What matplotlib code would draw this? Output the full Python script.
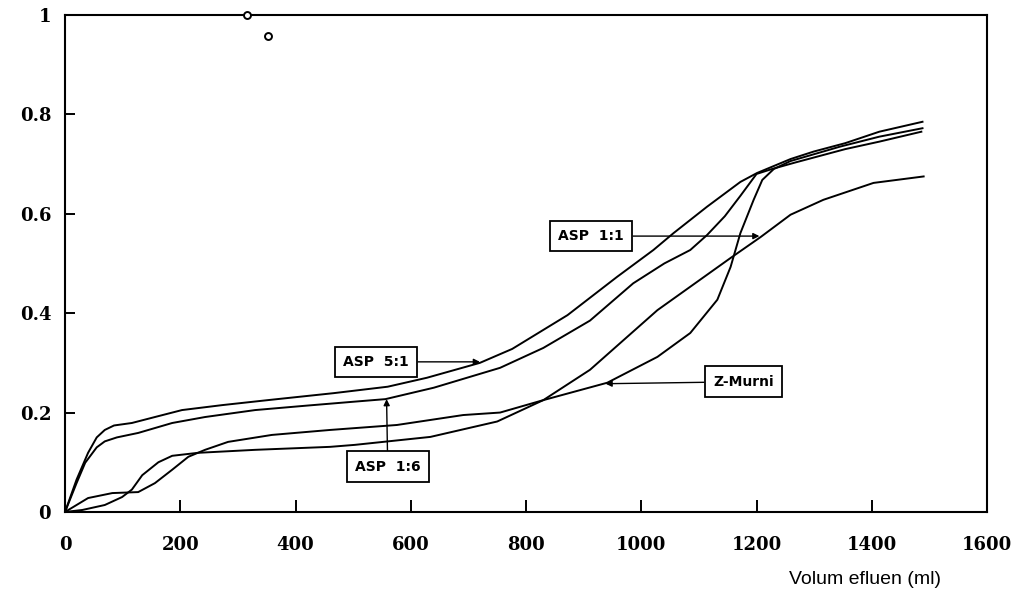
import matplotlib.pyplot as plt

# ASP 5:1 curve
asp51_x = [0, 20, 40, 55, 69, 85, 116, 156, 203, 273, 352, 466, 560, 628, 720, 776, 872, 958,
           1021, 1056, 1114, 1172, 1201, 1259, 1299, 1354, 1413, 1488]
asp51_y = [0, 0.065, 0.119, 0.15, 0.165, 0.174, 0.179, 0.191, 0.205, 0.215, 0.225, 0.239, 0.252,
           0.27, 0.30, 0.328, 0.396, 0.473, 0.527, 0.561, 0.614, 0.664, 0.682, 0.71, 0.725, 0.742,
           0.765, 0.785]

# ASP 1:6 curve
asp16_x = [0, 20, 35, 55, 69, 90, 127, 186, 243, 330, 420, 503, 556, 640, 755, 830, 911, 986,
           1040, 1085, 1114, 1145, 1172, 1200, 1227, 1267, 1354, 1413, 1486]
asp16_y = [0, 0.058, 0.099, 0.13, 0.142, 0.15, 0.159, 0.179, 0.191, 0.205, 0.214, 0.222, 0.227,
           0.25, 0.29, 0.33, 0.385, 0.46, 0.5, 0.527, 0.557, 0.595, 0.636, 0.68, 0.69, 0.703, 0.73,
           0.745, 0.765]

# ASP 1:1 curve
asp11_x = [0, 30, 69, 99, 116, 134, 162, 186, 231, 330, 460, 503, 634, 750, 830, 911, 1028,
           1155, 1207, 1259, 1316, 1403, 1490]
asp11_y = [0, 0.004, 0.014, 0.03, 0.045, 0.074, 0.1, 0.113, 0.119, 0.125, 0.131, 0.135, 0.151,
           0.182, 0.225, 0.286, 0.406, 0.511, 0.553, 0.598, 0.628, 0.662, 0.675]

# Z-Murni curve
murni_x = [0, 20, 40, 82, 127, 156, 186, 214, 243, 283, 359, 460, 576, 691, 755, 830, 941,
           1028, 1085, 1132, 1155, 1172, 1195, 1210, 1230, 1259, 1345, 1413, 1488]
murni_y = [0, 0.014, 0.028, 0.038, 0.04, 0.058, 0.085, 0.111, 0.125, 0.141, 0.155, 0.165, 0.175,
           0.195, 0.2, 0.225, 0.26, 0.312, 0.36, 0.427, 0.493, 0.561, 0.628, 0.668, 0.69, 0.706,
           0.735, 0.755, 0.772]

# two loose points near the top
pts_x = [316, 352]
pts_y = [1.0, 0.958]

fig = plt.figure(figsize=(10.24, 5.96), dpi=100)
ax = fig.add_axes([0.0635, 0.141, 0.9004, 0.834])

for xs, ys in [(asp51_x, asp51_y), (asp16_x, asp16_y), (asp11_x, asp11_y), (murni_x, murni_y)]:
    ax.plot(xs, ys, color='black', lw=1.4)

ax.plot(pts_x, pts_y, 'o', mfc='white', mec='black', mew=1.4, ms=5, clip_on=False, zorder=5)

ax.set_xlim(0, 1600)
ax.set_ylim(0, 1)
ax.set_xticks(range(0, 1601, 200))
ax.set_yticks([0, 0.2, 0.4, 0.6, 0.8, 1])
ax.set_yticklabels(['0', '0.2', '0.4', '0.6', '0.8', '1'])
ax.tick_params(axis='x', direction='in', length=9, width=1.4, pad=17)
ax.tick_params(axis='y', direction='in', length=7, width=1.4, pad=10)
for lab in ax.get_xticklabels() + ax.get_yticklabels():
    lab.set_fontfamily('DejaVu Serif')
    lab.set_fontsize(13)
    lab.set_fontweight('bold')
for s in ax.spines.values():
    s.set_linewidth(1.5)

# labels with arrows
box = dict(boxstyle='square,pad=0.6', fc='white', ec='black', lw=1.3)
arrow = dict(arrowstyle='-|>', color='black', lw=1.0, mutation_scale=9, shrinkA=0, shrinkB=0)
txt = dict(fontsize=10, fontweight='bold', family='DejaVu Sans', ha='center', va='center', bbox=box)

ax.annotate('ASP  1:1', xy=(1205, 0.555), xytext=(913, 0.555), arrowprops=arrow, **txt)
ax.annotate('ASP  5:1', xy=(720, 0.302), xytext=(540, 0.302), arrowprops=arrow, **txt)
ax.annotate('ASP  1:6', xy=(558, 0.227), xytext=(560, 0.091), arrowprops=arrow, **txt)
ax.annotate('Z-Murni', xy=(938, 0.258), xytext=(1177, 0.262), arrowprops=arrow, **txt)

fig.text(865 / 1024, 1 - 580 / 596, 'Volum efluen (ml)', fontsize=14,
         family='Liberation Sans', ha='center', va='center')

fig.savefig('out.png', dpi=100)
